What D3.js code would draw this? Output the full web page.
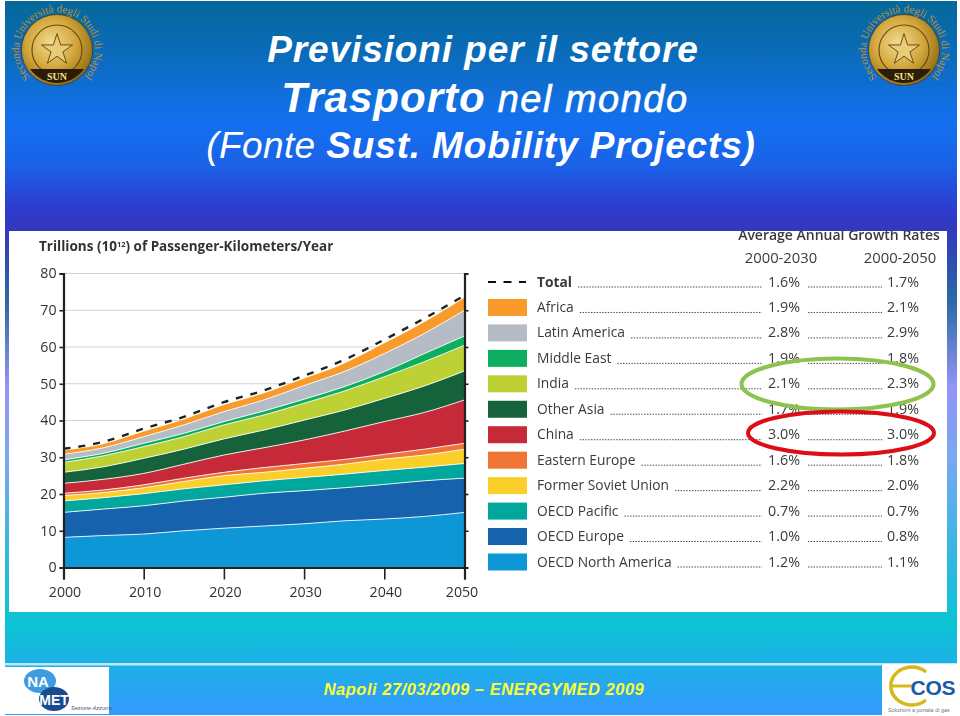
<!DOCTYPE html>
<html>
<head>
<meta charset="utf-8">
<script src="https://cdnjs.cloudflare.com/ajax/libs/d3/7.8.5/d3.min.js"></script>
<style>
  html, body { margin: 0; padding: 0; background: #fff; }
  svg { display: block; }
</style>
</head>
<body>
<div id="chart"></div>
<script>
// data, every 5 years, trillions of passenger-km
const years = [2000,2005,2010,2015,2020,2025,2030,2035,2040,2045,2050];
const oecdNorthAmerica = [8.2,8.7,9.1,10,10.7,11.3,11.9,12.7,13.2,13.9,15.0];
const oecdEurope = [6.8,7.2,7.7,8.1,8.4,8.9,9.0,9.0,9.4,9.7,9.3];
const oecdPacific = [3.1,3.1,3.3,3.3,3.4,3.4,3.6,3.7,3.8,3.7,4.0];
const formerSoviet = [1.5,1.4,1.6,2.0,2.5,2.3,2.5,2.7,3.1,3.3,3.9];
const easternEurope = [0.6,0.7,0.8,0.9,0.9,1.3,1.3,1.3,1.3,1.6,1.6];
const china = [2.7,2.9,3.1,3.8,4.7,5.4,6.4,7.7,8.9,10,11.8];
const otherAsia = [3.0,3.4,4.1,4.1,4.4,4.8,5.4,5.7,6.3,7.2,7.9];
const india = [2.7,3.0,3.2,3.4,3.8,4.1,4.6,5.2,5.9,6.6,7.0];
const middleEast = [0.7,0.7,0.9,0.9,0.9,1.1,1.1,1.2,1.4,2.2,2.5];
const latinAmerica = [1.5,1.5,1.8,2.3,2.7,3.0,3.7,4.1,4.9,5.5,7.0];
const africa = [1.0,1.0,1.4,1.5,1.8,1.8,1.9,2.2,2.8,3.1,3.4];
const total = [32.3,34.2,37.8,41,45,48.2,52.2,56.5,62,67.8,74];

// legend order, top to bottom
const legendNames = ["Total","Africa","Latin America","Middle East","India","Other Asia","China","Eastern Europe","Former Soviet Union","OECD Pacific","OECD Europe","OECD North America"];
const rates2030 = ["1.6%","1.9%","2.8%","1.9%","2.1%","1.7%","3.0%","1.6%","2.2%","0.7%","1.0%","1.2%"];
const rates2050 = ["1.7%","2.1%","2.9%","1.8%","2.3%","1.9%","3.0%","1.8%","2.0%","0.7%","0.8%","1.1%"];
const stackNames = legendNames.slice(1).reverse();
const stackValues = [oecdNorthAmerica,oecdEurope,oecdPacific,formerSoviet,easternEurope,china,otherAsia,india,middleEast,latinAmerica,africa];
const stackColors = ["#0a97d6","#1262ac","#06a79c","#fbcf2c","#ef7534","#c62a39","#15643a","#bdd136","#11ae5e","#b6bcc5","#f89b2c"];
const yTicks = [0,10,20,30,40,50,60,70,80];
const xTicks = [2000,2010,2020,2030,2040,2050];

const W = 960, H = 716;
const svg = d3.select("#chart").append("svg").attr("width", W).attr("height", H);
const defs = svg.append("defs");

// the source is a soft low-res scan
defs.append("filter").attr("id","soft").append("feGaussianBlur").attr("stdDeviation",0.35);

// slide background
const bg = defs.append("linearGradient").attr("id","bg").attr("x1",0).attr("y1",0).attr("x2",0).attr("y2",1);
[[0,"#05689a"],[0.07,"#0a6bb8"],[0.17,"#1470f0"],[0.23,"#1a62e8"],[0.29,"#2e3cd0"],[0.32,"#3338bc"],[0.42,"#2a6aa4"],[0.54,"#9494f6"],[0.64,"#78a8f0"],[0.78,"#30b8e0"],[0.87,"#0cc4d4"],[0.92,"#1ab4e4"],[1,"#3399ff"]]
  .forEach(function(s){ bg.append("stop").attr("offset",s[0]).attr("stop-color",s[1]); });
svg.append("rect").attr("x",5).attr("y",1).attr("width",952).attr("height",714).attr("fill","url(#bg)");

// white chart panel
svg.append("rect").attr("x",9).attr("y",231).attr("width",938).attr("height",381).attr("fill","#fff");
defs.append("clipPath").attr("id","panel").append("rect").attr("x",9).attr("y",231).attr("width",938).attr("height",381);

// titles
const title = svg.append("g").attr("fill","#fff").attr("font-family","'Liberation Sans', Arial, sans-serif").attr("font-style","italic").attr("text-anchor","middle");
title.append("text").attr("x",483).attr("y",62).attr("font-size",37).attr("font-weight","bold").attr("letter-spacing",0.9).text("Previsioni per il settore");
const t2 = title.append("text").attr("x",485).attr("y",112).attr("font-size",42);
t2.append("tspan").attr("font-weight","bold").attr("letter-spacing",1).text("Trasporto");
t2.append("tspan").attr("font-size",38).attr("stroke","#fff").attr("stroke-width",0.6).attr("letter-spacing",1.5).text(" nel mondo");
const t3 = title.append("text").attr("x",481).attr("y",158).attr("font-size",37);
t3.append("tspan").attr("letter-spacing",0.4).text("(Fonte ");
t3.append("tspan").attr("font-weight","bold").attr("letter-spacing",0.85).text("Sust. Mobility Projects)");

// the area chart
const x = d3.scaleLinear().domain([2000,2050]).range([63.5,464.5]);
const y = d3.scaleLinear().domain([0,80]).range([567.5,273.5]);

const chart = svg.append("g").attr("font-family","'Open Sans', sans-serif").attr("clip-path","url(#panel)").append("g").attr("filter","url(#soft)");

chart.append("text").attr("x",39).attr("y",251).attr("font-size",13.5).attr("font-weight",700).attr("fill","#333")
  .html('Trillions (10<tspan font-size="7.5" dy="-4">12</tspan><tspan dy="4">) of Passenger-Kilometers/Year</tspan>');

chart.append("g").selectAll("line").data(yTicks.slice(1)).enter().append("line")
  .attr("x1",x(2000)).attr("x2",x(2050)).attr("y1",function(d){return y(d);}).attr("y2",function(d){return y(d);})
  .attr("stroke","#d2d2d2").attr("stroke-width",1);

const rows = years.map(function(yr,i){
  const r = {year: yr};
  stackNames.forEach(function(n,k){ r[n] = stackValues[k][i]; });
  return r;
});
const layers = d3.stack().keys(stackNames)(rows);
const area = d3.area().x(function(d){return x(d.data.year);}).y0(function(d){return y(d[0]);}).y1(function(d){return y(d[1]);}).curve(d3.curveMonotoneX);
const topLine = d3.line().x(function(d){return x(d.data.year);}).y(function(d){return y(d[1]);}).curve(d3.curveMonotoneX);

chart.append("g").selectAll("path").data(layers).enter().append("path")
  .attr("d",area).attr("fill",function(d,i){return stackColors[i];});
chart.append("g").selectAll("path").data(layers.slice(0,10)).enter().append("path")
  .attr("d",topLine).attr("fill","none").attr("stroke","#fff").attr("stroke-opacity",0.85).attr("stroke-width",1);

// total, dashed
chart.append("path").datum(total)
  .attr("d",d3.line().x(function(d,i){return x(years[i]);}).y(function(d){return y(d);}).curve(d3.curveMonotoneX))
  .attr("fill","none").attr("stroke","#222").attr("stroke-width",2.4).attr("stroke-dasharray","7,8");

// axes
const yAxis = chart.append("g").attr("transform","translate("+x(2000)+",0)")
  .call(d3.axisLeft(y).tickValues(yTicks).tickSize(4).tickPadding(3));
const yRight = chart.append("g").attr("transform","translate("+x(2050)+",0)")
  .call(d3.axisRight(y).tickValues(yTicks.slice(1,8)).tickSize(4).tickFormat(""));
const xAxis = chart.append("g").attr("transform","translate(0,"+y(0)+")")
  .call(d3.axisBottom(x).tickValues(xTicks).tickFormat(d3.format("d")).tickSize(12).tickPadding(7));
[yAxis,yRight,xAxis].forEach(function(a){
  a.selectAll("path").attr("stroke","#222").attr("stroke-width",2.2);
  a.selectAll("line").attr("stroke","#222").attr("stroke-width",1.6);
  a.selectAll("text").attr("font-family","'Open Sans', sans-serif").attr("font-size",14.2).attr("fill","#333");
});
yAxis.selectAll("text").attr("dy","0.3em");
xAxis.selectAll("text").attr("dx",function(d){return d===2050?-3:1;});

// legend table
const legY = d3.scalePoint().domain(legendNames).range([282,562]);
const tbl = chart.append("g").attr("font-size",13.8).attr("fill","#3a3a3a");

tbl.append("text").attr("x",839).attr("y",240).attr("text-anchor","middle").attr("font-weight",600).attr("font-size",14).text("Average Annual Growth Rates");
tbl.append("text").attr("x",781).attr("y",263).attr("text-anchor","middle").attr("font-size",14.8).text("2000-2030");
tbl.append("text").attr("x",900).attr("y",263).attr("text-anchor","middle").attr("font-size",14.8).text("2000-2050");

const row = tbl.selectAll("g.row").data(legendNames).enter().append("g").attr("class","row")
  .attr("transform",function(d){return "translate(0,"+legY(d)+")";});

row.filter(function(d){return d==="Total";}).append("line")
  .attr("x1",488).attr("x2",526).attr("stroke","#111").attr("stroke-width",2.2).attr("stroke-dasharray","8,7.5");
row.filter(function(d){return d!=="Total";}).append("rect")
  .attr("x",488).attr("y",-8.5).attr("width",39).attr("height",17)
  .attr("fill",function(d){return stackColors[stackNames.indexOf(d)];});

const lab = row.append("text").attr("x",537).attr("y",4.5)
  .attr("font-weight",function(d){return d==="Total"?700:400;}).text(function(d){return d;});
row.append("text").attr("x",800).attr("y",4.5).attr("text-anchor","end").attr("font-size",14.3).text(function(d,i){return rates2030[i];});
row.append("text").attr("x",919).attr("y",4.5).attr("text-anchor","end").attr("font-size",14.3).text(function(d,i){return rates2050[i];});

// dotted leaders, start after each label
row.append("line").attr("y1",5).attr("y2",5).attr("x2",762)
  .attr("x1",function(d,i){ return 537 + lab.nodes()[i].getComputedTextLength() + 6; })
  .attr("stroke","#444").attr("stroke-width",1).attr("stroke-dasharray","1.4,1.4");
row.append("line").attr("y1",5).attr("y2",5).attr("x1",808).attr("x2",882)
  .attr("stroke","#444").attr("stroke-width",1).attr("stroke-dasharray","1.4,1.4");

// highlight rings
chart.append("ellipse").attr("cx",837.5).attr("cy",384).attr("rx",96).attr("ry",25.5)
  .attr("fill","none").attr("stroke","#8cc34e").attr("stroke-width",4);
chart.append("ellipse").attr("cx",841).attr("cy",433).attr("rx",93).attr("ry",21.5)
  .attr("fill","none").attr("stroke","#dc0a14").attr("stroke-width",4);

// university medals
const gold = defs.append("radialGradient").attr("id","gold").attr("cx","42%").attr("cy","40%").attr("r","70%");
[[0,"#f2dc90"],[0.5,"#d2a63c"],[0.85,"#9a7418"],[1,"#4a3406"]].forEach(function(s){ gold.append("stop").attr("offset",s[0]).attr("stop-color",s[1]); });

function medal(cx, cy, id){
  const g = svg.append("g").attr("transform","translate("+cx+","+cy+")");
  g.append("circle").attr("r",35.5).attr("fill","url(#gold)").attr("stroke","#3a2a08").attr("stroke-width",0.6);
  g.append("circle").attr("r",25).attr("fill","none").attr("stroke","#6a4c10").attr("stroke-width",1.2);
  g.append("path").attr("d",d3.symbol().type(d3.symbolStar).size(300)()).attr("fill","#e8cc78").attr("stroke","#6a4c10").attr("stroke-width",1);
  g.append("path").attr("d","M-27,19 A33,33 0 0 0 27,19 Z").attr("fill","#2a1c06");
  g.append("text").attr("y",30).attr("text-anchor","middle").attr("font-family","'Liberation Serif', serif").attr("font-weight","bold").attr("font-size",10).attr("fill","#f6e08a").text("SUN");
  defs.append("path").attr("id",id).attr("d","M-27,27 A38,38 0 1 1 27,27");
  g.append("text").attr("font-family","'Liberation Serif', serif").attr("font-size",11).attr("fill","#c09038")
    .append("textPath").attr("href","#"+id).text("Seconda Università degli Studi di Napoli");
}
medal(57,50,"arcL");
medal(904,50,"arcR");

// footer
svg.append("rect").attr("x",5).attr("y",663).attr("width",952).attr("height",2.5).attr("fill","#bfe8f8");
svg.append("text").attr("x",484).attr("y",695).attr("text-anchor","middle")
  .attr("font-family","'Liberation Sans', Arial, sans-serif").attr("font-style","italic").attr("font-weight","bold")
  .attr("font-size",16.5).attr("letter-spacing",0.5).attr("fill","#ffff33").text("Napoli 27/03/2009 – ENERGYMED 2009");

// partner logos
const nam = svg.append("g").attr("font-family","'Liberation Sans', sans-serif");
nam.append("rect").attr("x",5).attr("y",667).attr("width",104).attr("height",47).attr("fill","#fff");
nam.append("ellipse").attr("cx",40).attr("cy",681).attr("rx",16).attr("ry",12).attr("fill","#3d9ce0");
nam.append("ellipse").attr("cx",54).attr("cy",699).attr("rx",15).attr("ry",12).attr("fill","#1a4a90");
nam.append("text").attr("x",38).attr("y",687).attr("text-anchor","middle").attr("font-weight","bold").attr("font-size",15).attr("fill","#fff").text("NA");
nam.append("text").attr("x",54).attr("y",705).attr("text-anchor","middle").attr("font-weight","bold").attr("font-size",14).attr("fill","#fff").text("MET");
nam.append("text").attr("x",71).attr("y",710).attr("font-style","italic").attr("font-size",5.6).attr("fill","#556").text("Sezione Azzurra");

const eco = svg.append("g").attr("font-family","'Liberation Sans', sans-serif");
eco.append("rect").attr("x",882).attr("y",664).attr("width",75).attr("height",51).attr("fill","#fff");
eco.append("path").attr("d","M926,672 A21,19 0 1 0 926,700").attr("fill","none").attr("stroke","#d8b818").attr("stroke-width",3.5);
eco.append("line").attr("x1",890).attr("x2",914).attr("y1",686).attr("y2",686).attr("stroke","#d8b818").attr("stroke-width",3);
eco.append("text").attr("x",933).attr("y",695).attr("text-anchor","middle").attr("font-weight","bold").attr("font-size",21).attr("fill","#1a5aa8").attr("textLength",45).text("COS");
eco.append("text").attr("x",919).attr("y",712).attr("text-anchor","middle").attr("font-size",5.5).attr("fill","#777").text("Soluzioni a portata di gas");
</script>
</body>
</html>
